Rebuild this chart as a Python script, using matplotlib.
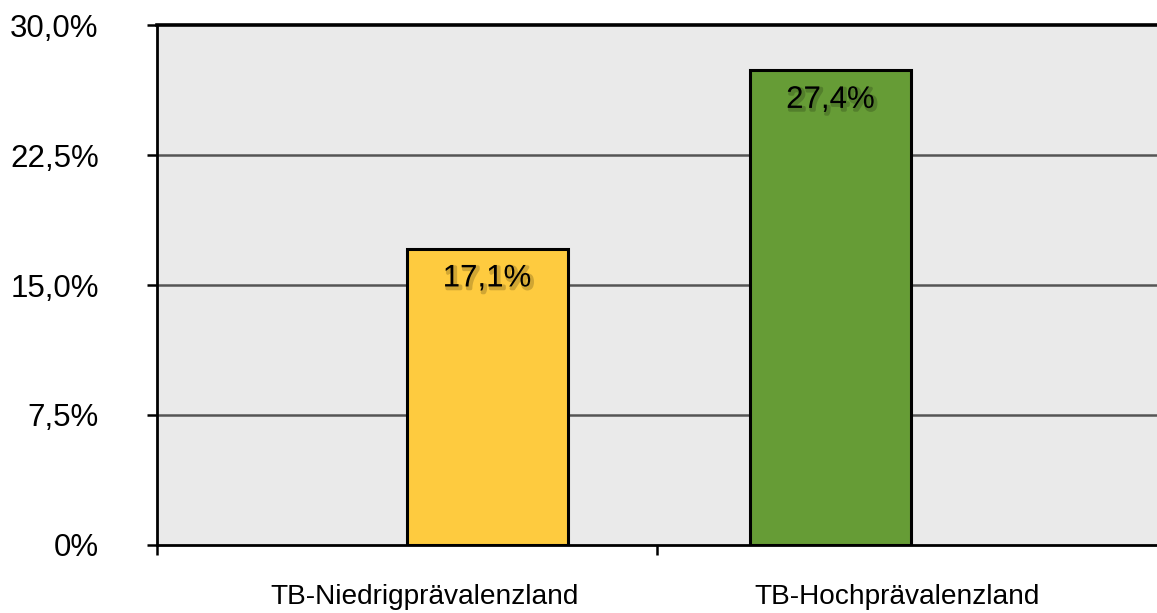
import matplotlib
matplotlib.use("Agg")
import matplotlib.pyplot as plt
import matplotlib.patheffects as pe

categories = ["TB-Niedrigprävalenzland", "TB-Hochprävalenzland"]
values = [17.1, 27.4]
bar_labels = ["17,1%", "27,4%"]
colors = ["#FECB3F", "#669C36"]
yticks = [0, 7.5, 15, 22.5, 30]
ytick_labels = ["0%", "7,5%", "15,0%", "22,5%", "30,0%"]

plt.rcParams['font.family'] = ['Liberation Sans', 'DejaVu Sans']

fig = plt.figure(figsize=(11.57, 6.13), dpi=100)
ax = fig.add_axes([157/1157, 68/613, 1000/1157, 520/613])
ax.set_facecolor("#EAEAEA")

xpos = [0.66, 1.347]
width = 0.322
bars = ax.bar(xpos, values, width=width, color=colors, edgecolor="black", linewidth=2.2, zorder=3)

ax.set_xlim(0, 2)
ax.set_ylim(0, 30)
ax.set_yticks(yticks)
ax.set_yticklabels(ytick_labels, fontsize=22.5)
for y in yticks[1:-1]:
    ax.axhline(y, color="#555555", linewidth=1.8, zorder=1)

ax.set_xticks([0, 1])
ax.set_xticklabels([])
ax.set_xticks([0.535, 1.48], minor=True)
ax.set_xticklabels(categories, minor=True, fontsize=20.2)
ax.tick_params(axis='x', which='minor', length=0, pad=28)
ax.tick_params(axis='x', which='major', length=7, width=1.8, direction='out')
ax.tick_params(axis='y', length=7, width=1.8, pad=35)

for s in ["left", "bottom", "top"]:
    ax.spines[s].set_linewidth(2)
    ax.spines[s].set_color("black")
ax.spines["top"].set_linewidth(2.6)
ax.spines["right"].set_visible(False)

shadow = [pe.SimpleLineShadow(offset=(1.5, -1.5), shadow_color="black", alpha=0.18, linewidth=2.5),
          pe.Normal()]
for b, lab in zip(bars, bar_labels):
    t = ax.annotate(lab, (b.get_x() + b.get_width()/2, b.get_height()),
                    xytext=(0, -21.5), textcoords="offset points",
                    ha="center", va="center", fontsize=22.5, zorder=4)
    t.set_path_effects(shadow)

fig.savefig("out.png", dpi=100)
